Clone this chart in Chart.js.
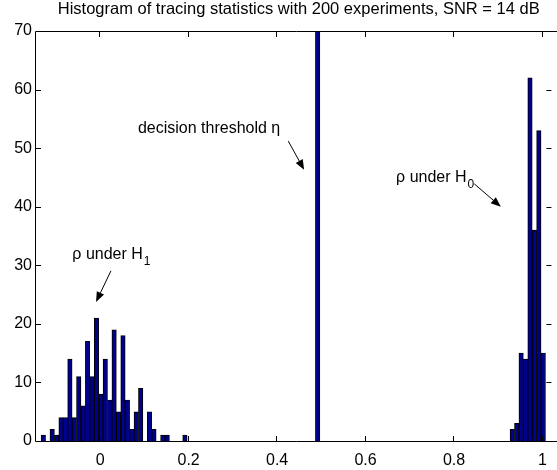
<!DOCTYPE html>
<html lang="en">
<head>
<meta charset="UTF-8">
<title>Tracing statistics histogram</title>
<script src="https://cdn.jsdelivr.net/npm/chart.js@4.4.1/dist/chart.umd.min.js"></script>
<style>
  body { margin: 0; background: #fff; }
  canvas { display: block; }
</style>
</head>
<body>
<canvas id="histChart" width="557" height="470"></canvas>
<script>
// histogram bins: left edge of first bin and bin width
var binStart = -0.1334;
var binWidth = 0.01;

// counts per bin, 200 experiments under each hypothesis
var counts = [
    1, 0, 2, 1, 4, 4, 14, 4, 11, 6,
    17, 11, 21, 8, 14, 7, 19, 5, 18, 7,
    2, 5, 9, 0, 5, 2, 0, 1, 1, 0,
    0, 0, 1, 0, 0, 0, 0, 0, 0, 0,
    0, 0, 0, 0, 0, 0, 0, 0, 0, 0,
    0, 0, 0, 0, 0, 0, 0, 0, 0, 0,
    0, 0, 0, 0, 0, 0, 0, 0, 0, 0,
    0, 0, 0, 0, 0, 0, 0, 0, 0, 0,
    0, 0, 0, 0, 0, 0, 0, 0, 0, 0,
    0, 0, 0, 0, 0, 0, 0, 0, 0, 0,
    0, 0, 0, 0, 0, 0,
    2, 3, 15, 14, 62, 36, 53, 15
];

// decision threshold
var eta = 0.4916;
var etaHeight = 70;

var xTickValues = [0, 0.2, 0.4, 0.6, 0.8, 1];
var yTickValues = [0, 10, 20, 30, 40, 50, 60, 70];

var titleText = 'Histogram of tracing statistics with 200 experiments, SNR = 14 dB';

// text labels with arrows (data units): text left/middle, arrow tail, arrow tip
var noteTexts = ['decision threshold \u03b7', '\u03c1 under H', '\u03c1 under H'];
var noteSubs = ['', '0', '1'];
var noteAt = [[0.0854, 53.4], [0.6690, 44.9], [-0.0628, 31.8]];
var arrowFrom = [[0.4253, 51.2], [0.8457, 43.9], [0.0244, 29.05]];
var arrowTo = [[0.461, 46.3], [0.9057, 40.0], [-0.0092, 23.75]];

var fontFamily = '"Liberation Sans", Arial, Helvetica, sans-serif';
var barFill = 'rgb(0,0,140)';

function binCenter(i) {
    return Math.round((binStart + (i + 0.5) * binWidth) * 1e4) / 1e4;
}

var histData = counts.map(function (c, i) { return { x: binCenter(i), y: c }; });

function drawArrow(c, x1, y1, x2, y2) {
    var ang = Math.atan2(y2 - y1, x2 - x1);
    var hl = 10, hw = 4;
    var bx = x2 - hl * Math.cos(ang), by = y2 - hl * Math.sin(ang);
    c.beginPath();
    c.moveTo(x1, y1);
    c.lineTo(bx, by);
    c.stroke();
    c.beginPath();
    c.moveTo(x2, y2);
    c.lineTo(bx + hw * Math.sin(ang), by - hw * Math.cos(ang));
    c.lineTo(bx - hw * Math.sin(ang), by + hw * Math.cos(ang));
    c.closePath();
    c.fill();
}

// axes box with inward ticks, title and the labelled arrows
var framePlugin = {
    id: 'frame',
    afterDraw: function (chart) {
        var c = chart.ctx, a = chart.chartArea;
        var xs = chart.scales.x, ys = chart.scales.y;
        var tl = 5;
        c.save();
        c.strokeStyle = '#000';
        c.fillStyle = '#000';
        c.lineWidth = 1;

        c.beginPath();
        c.moveTo(chart.width, a.top + 0.5);
        c.lineTo(a.left - 0.5, a.top + 0.5);
        c.lineTo(a.left - 0.5, a.bottom + 0.5);
        c.lineTo(chart.width, a.bottom + 0.5);
        c.stroke();

        c.beginPath();
        xTickValues.forEach(function (v) {
            var px = Math.round(xs.getPixelForValue(v)) - 0.5;
            c.moveTo(px, a.bottom);
            c.lineTo(px, a.bottom - tl);
            c.moveTo(px, a.top + 1);
            c.lineTo(px, a.top + 1 + tl);
        });
        yTickValues.forEach(function (v) {
            var py = Math.round(ys.getPixelForValue(v)) + 0.5;
            c.moveTo(a.left, py);
            c.lineTo(a.left + tl, py);
            c.moveTo(a.right, py);
            c.lineTo(a.right - tl, py);
        });
        c.stroke();

        c.font = '16.5px ' + fontFamily;
        c.textAlign = 'center';
        c.textBaseline = 'alphabetic';
        c.fillText(titleText, (a.left + a.right) / 2 + 5, 14);

        c.textAlign = 'left';
        c.textBaseline = 'middle';
        noteTexts.forEach(function (t, i) {
            var x = xs.getPixelForValue(noteAt[i][0]);
            var y = ys.getPixelForValue(noteAt[i][1]);
            c.font = '16px ' + fontFamily;
            c.fillText(t, x, y);
            if (noteSubs[i]) {
                var w = c.measureText(t).width;
                c.font = '12px ' + fontFamily;
                c.fillText(noteSubs[i], x + w + 1, y + 7);
            }
            drawArrow(c,
                xs.getPixelForValue(arrowFrom[i][0]), ys.getPixelForValue(arrowFrom[i][1]),
                xs.getPixelForValue(arrowTo[i][0]), ys.getPixelForValue(arrowTo[i][1]));
        });
        c.restore();
    }
};

var ctx = document.getElementById('histChart');
new Chart(ctx, {
    type: 'bar',
    data: {
        datasets: [{
            data: histData,
            backgroundColor: barFill,
            borderColor: '#000',
            borderWidth: 1,
            borderSkipped: 'start',
            grouped: false,
            barPercentage: 1,
            categoryPercentage: 1
        }, {
            data: [{ x: eta, y: etaHeight }],
            backgroundColor: barFill,
            borderColor: '#000',
            borderWidth: 1,
            borderSkipped: 'start',
            grouped: false,
            barPercentage: 1,
            categoryPercentage: 1
        }]
    },
    options: {
        responsive: false,
        animation: false,
        layout: { padding: { top: 31, left: 0, right: 0, bottom: 0 } },
        plugins: {
            legend: { display: false },
            tooltip: { enabled: false },
            title: { display: false }
        },
        scales: {
            x: {
                type: 'linear',
                min: -0.145,
                max: 1.02,
                offset: false,
                grid: { display: false, drawTicks: false },
                border: { display: false },
                afterBuildTicks: function (s) {
                    s.ticks = xTickValues.map(function (v) { return { value: v }; });
                },
                afterFit: function (s) { s.height = 29; },
                ticks: {
                    color: '#000',
                    font: { family: fontFamily, size: 16 },
                    padding: 10,
                    maxRotation: 0,
                    autoSkip: false,
                    callback: function (v) { return String(v); }
                }
            },
            y: {
                min: 0,
                max: 70,
                grid: { display: false, drawTicks: false },
                border: { display: false },
                afterBuildTicks: function (s) {
                    s.ticks = yTickValues.map(function (v) { return { value: v }; });
                },
                afterFit: function (s) { s.width = 36; },
                ticks: {
                    color: '#000',
                    font: { family: fontFamily, size: 16 },
                    padding: 4,
                    autoSkip: false,
                    callback: function (v) { return String(v); }
                }
            }
        }
    },
    plugins: [framePlugin]
});
</script>
</body>
</html>
